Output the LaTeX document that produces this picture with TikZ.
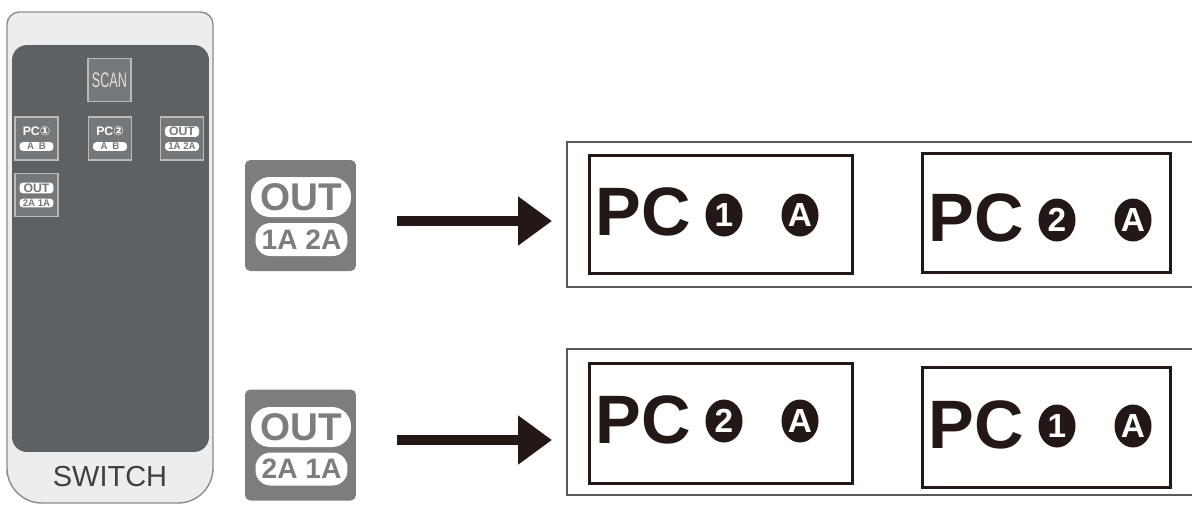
\documentclass[tikz,border=0pt]{standalone}
\usepackage{fontspec}
\setmainfont{Liberation Sans}
\newfontfamily\symfont{DejaVu Sans}
\usetikzlibrary{arrows.meta,positioning,shapes.geometric}

\definecolor{inkblack}{HTML}{231815}
\definecolor{panelgray}{HTML}{5E6164}
\definecolor{bodygray}{HTML}{EDEDED}
\definecolor{rimgray}{HTML}{8C8C8C}
\definecolor{keygray}{HTML}{75787A}
\definecolor{icongray}{HTML}{7B7D7F}

\tikzset{
  keybox/.style={fill=keygray, draw=gray!55, line width=0.6pt,
    minimum width=0.86cm, minimum height=0.86cm, inner sep=0pt},
  keypill/.style={fill=white, text=keygray, rounded corners=2pt, inner sep=0.6pt,
    minimum width=0.68cm, font=\bfseries\fontsize{5.5}{6}\selectfont},
  keytext/.style={text=white, inner sep=0pt, font=\bfseries\fontsize{7}{7}\selectfont},
  icon/.style={fill=icongray, rounded corners=3pt,
    minimum width=2.22cm, minimum height=2.22cm},
  bigpill/.style={fill=white, text=icongray, inner sep=0pt,
    font=\bfseries\fontsize{22}{22}\selectfont},
  rowframe/.style={draw=black!65, line width=1.1pt, anchor=north west,
    minimum width=12.68cm},
  pcbox/.style={draw=inkblack, line width=1.8pt, anchor=north west},
  pctext/.style={text=inkblack, inner sep=0pt, anchor=base west,
    font=\bfseries\fontsize{39}{39}\selectfont},
  dot/.style={ellipse, fill=inkblack, text=white, minimum width=0.74cm,
    minimum height=0.86cm, inner sep=0pt, font=\bfseries\fontsize{19}{19}\selectfont},
  bigarrow/.style={inkblack, line width=0.19cm, -{Triangle[length=0.68cm,width=0.94cm]},
    shorten <=0.82cm, shorten >=0.28cm},
}

\begin{document}
\begin{tikzpicture}[x=0.02cm, y=-0.02cm]
  \useasboundingbox (0,0) rectangle (1192,505);

  % remote control
  \draw [fill=bodygray, draw=rimgray, line width=0.8pt]
    (7,440) [rounded corners=0.25cm] -- (7,12) -- (213,12) -- (213,440)
    [rounded corners=0.7cm] -- (213,503) -- (7,503) -- cycle;
  \node [fill=panelgray, rounded corners=0.3cm, minimum width=3.94cm,
    minimum height=8.14cm] (panel) at (110.5,248.5) {};
  \node [text=black!75, font=\fontsize{16.5}{17}\selectfont] (switchlabel)
    at (110,477) {SWITCH};

  \node [keybox] (scan) at (109.5,80)
    {\textcolor{gray!25}{\scalebox{0.6}[1]{\fontsize{12}{12}\selectfont SCAN}}};
  \foreach \name/\x/\y/\n in {pcone/36.5/138.5/①, pctwo/110/138.5/②}
  {
    \node [keybox] (\name) at (\x,\y) {};
    \node [keytext] (\name top) at (\x,\y-7) {PC{\symfont\n}};
    \node [keypill] (\name bot) at (\x,\y+8) {A\enspace B};
  }
  \foreach \name/\x/\y/\lbl in {outone/182/138.5/1A 2A, outtwo/36.5/195/2A 1A}
  {
    \node [keybox] (\name) at (\x,\y) {};
    \node [keypill] (\name top) at (\x,\y-7) {\fontsize{7}{7}\selectfont OUT};
    \node [keypill] (\name bot) at (\x,\y+8) {\lbl};
  }

  % big OUT keys
  \node [icon] (outA) at (300.5,215.5) {};
  \node [bigpill, rounded corners=0.38cm, minimum width=2.0cm, minimum height=0.8cm]
    (outAtop) at (301,197) {OUT};
  \node [bigpill, rounded corners=0.3cm, minimum width=1.84cm, minimum height=0.66cm,
    font=\bfseries\fontsize{16}{16}\selectfont] (outAbot) at (301.5,239.5) {1A 2A};

  \node [icon] (outB) at (300.5,445) {};
  \node [bigpill, rounded corners=0.38cm, minimum width=2.0cm, minimum height=0.8cm]
    (outBtop) at (301,427) {OUT};
  \node [bigpill, rounded corners=0.3cm, minimum width=1.84cm, minimum height=0.66cm,
    font=\bfseries\fontsize{16}{16}\selectfont] (outBbot) at (301.5,469) {2A 1A};

  % screens
  \node [rowframe, minimum height=2.9cm] (rowA) at (566,141) {};
  \node [rowframe, minimum height=2.92cm] (rowB) at (566,348) {};

  \foreach \name/\l/\t/\w/\h/\base/\cy/\n in
    {tl/588/154/263/118/235/215/1, tr/921/152/248/119/241/220/2,
     bl/588/362/263/120/443/421/2, br/921/366/248/120/448/426/1}
  {
    \node [pcbox, minimum width=\w*0.02cm, minimum height=\h*0.02cm]
      (box\name) at (\l,\t) {};
    \node [pctext] (pc\name) at (\l+7,\base) {PC};
    \node [dot] (num\name) at (\l+136,\cy) {\n};
    \node [dot] (a\name) at (\l+212,\cy) {A};
  }

  \draw [bigarrow] ([yshift=-1.1mm]outA.east) -- ([yshift=-1.1mm]outA.east -| rowA.west);
  \draw [bigarrow] ([yshift=1mm]outB.east) -- ([yshift=1mm]outB.east -| rowB.west);
\end{tikzpicture}
\end{document}
